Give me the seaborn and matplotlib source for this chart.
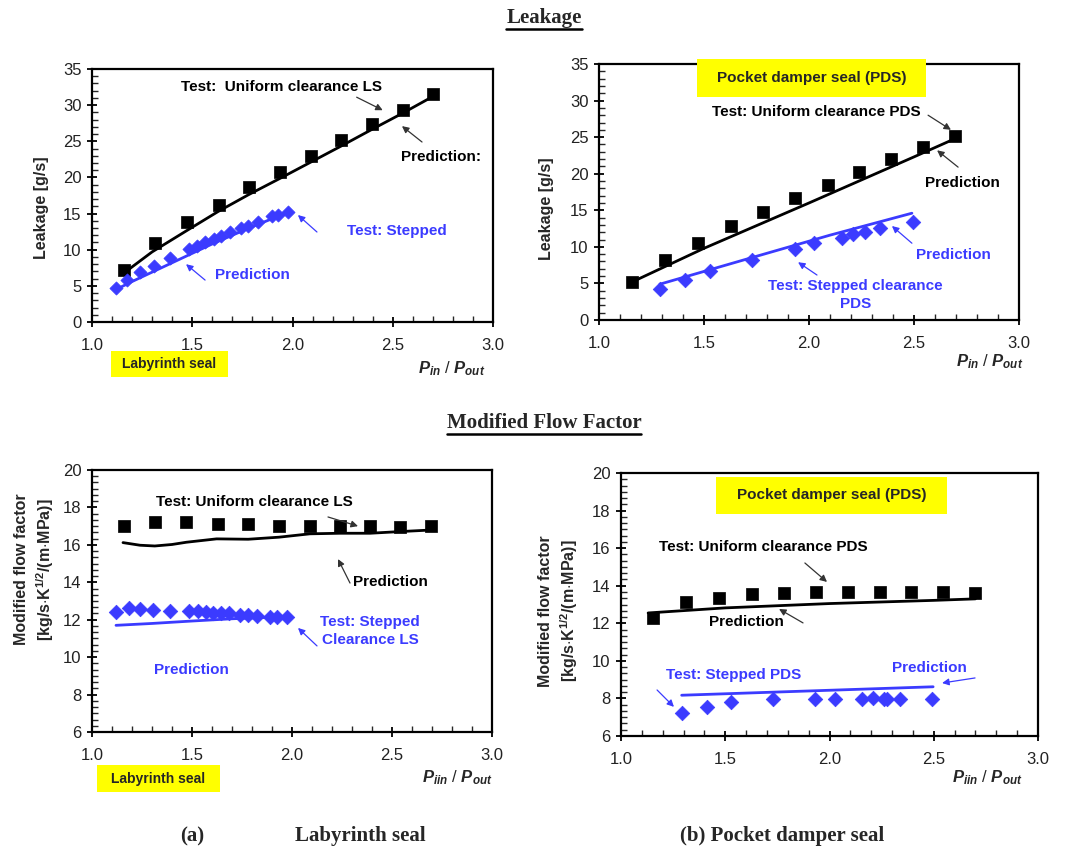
import numpy as np
import pandas as pd
import seaborn as sns
import matplotlib.pyplot as plt
from matplotlib.patches import Rectangle
from matplotlib.ticker import MultipleLocator, AutoMinorLocator

# ---- data ----
# (a) labyrinth seal, leakage [g/s]
ls_leak_test_x = [1.158, 1.315, 1.473, 1.631, 1.785, 1.938, 2.092, 2.241, 2.397, 2.549, 2.701]
ls_leak_test_y = [7.2, 10.9, 13.8, 16.2, 18.7, 20.8, 23.0, 25.2, 27.4, 29.3, 31.5]
ls_leak_pred_x = [1.17, 1.30, 1.47, 1.63, 1.78, 1.94, 2.09, 2.24, 2.40, 2.55, 2.70]
ls_leak_pred_y = [7.0, 9.7, 12.6, 15.3, 17.6, 19.9, 22.1, 24.3, 26.7, 28.9, 31.2]
sls_leak_test_x = [1.121, 1.174, 1.241, 1.307, 1.39, 1.485, 1.523, 1.564, 1.606, 1.644,
                   1.689, 1.742, 1.78, 1.83, 1.896, 1.926, 1.979]
sls_leak_test_y = [4.7, 5.85, 6.86, 7.8, 8.85, 10.1, 10.55, 11.0, 11.5, 11.9,
                   12.4, 13.0, 13.3, 13.9, 14.6, 14.8, 15.25]
sls_leak_pred_x = [1.12, 1.20, 1.30, 1.40, 1.50, 1.60, 1.70, 1.80, 1.90, 1.98]
sls_leak_pred_y = [4.5, 5.6, 6.9, 8.2, 9.5, 10.8, 12.0, 13.2, 14.3, 15.2]

# (b) pocket damper seal, leakage [g/s]
pds_leak_test_x = [1.156, 1.314, 1.473, 1.629, 1.779, 1.933, 2.089, 2.24, 2.39, 2.544, 2.695]
pds_leak_test_y = [5.24, 8.2, 10.57, 12.85, 14.72, 16.73, 18.46, 20.19, 21.97, 23.6, 25.16]
pds_leak_pred_x = [1.18, 1.50, 2.00, 2.50, 2.68]
pds_leak_pred_y = [5.5, 9.8, 16.0, 22.3, 24.6]
spds_leak_test_x = [1.29, 1.41, 1.529, 1.727, 1.933, 2.025, 2.156, 2.211, 2.267, 2.338, 2.494]
spds_leak_test_y = [4.19, 5.47, 6.7, 8.2, 9.66, 10.48, 11.26, 11.71, 11.99, 12.53, 13.45]
spds_leak_pred_x = [1.29, 1.70, 2.10, 2.49]
spds_leak_pred_y = [4.9, 8.3, 11.6, 14.6]

# (a) labyrinth seal, modified flow factor
ls_mff_test_x = [1.159, 1.314, 1.472, 1.628, 1.781, 1.935, 2.09, 2.24, 2.39, 2.541, 2.695]
ls_mff_test_y = [17.03, 17.24, 17.2, 17.12, 17.12, 17.03, 17.01, 17.01, 17.01, 16.98, 17.01]
ls_mff_pred_x = [1.155, 1.24, 1.314, 1.40, 1.472, 1.623, 1.781, 1.935, 2.09, 2.24, 2.39, 2.541, 2.708]
ls_mff_pred_y = [16.12, 15.98, 15.94, 16.02, 16.14, 16.32, 16.3, 16.41, 16.59, 16.62, 16.62, 16.71, 16.8]
sls_mff_test_x = [1.122, 1.184, 1.239, 1.306, 1.389, 1.486, 1.531, 1.569, 1.606, 1.644,
                  1.686, 1.74, 1.778, 1.826, 1.89, 1.923, 1.973]
sls_mff_test_y = [12.40, 12.62, 12.58, 12.53, 12.44, 12.44, 12.44, 12.39, 12.35, 12.35,
                  12.35, 12.26, 12.26, 12.21, 12.17, 12.16, 12.14]
sls_mff_pred_x = [1.12, 1.30, 1.50, 1.70, 1.98]
sls_mff_pred_y = [11.7, 11.8, 11.93, 12.05, 12.17]

# (b) pocket damper seal, modified flow factor
pds_mff_test_x = [1.155, 1.312, 1.471, 1.626, 1.781, 1.935, 2.089, 2.241, 2.393, 2.545, 2.696]
pds_mff_test_y = [12.30, 13.15, 13.37, 13.54, 13.6, 13.65, 13.65, 13.65, 13.65, 13.65, 13.6]
pds_mff_pred_x = [1.13, 1.50, 2.00, 2.50, 2.70]
pds_mff_pred_y = [12.55, 12.82, 13.05, 13.22, 13.3]
spds_mff_test_x = [1.291, 1.411, 1.527, 1.727, 1.93, 2.026, 2.158, 2.209, 2.262, 2.278, 2.337, 2.494]
spds_mff_test_y = [7.23, 7.55, 7.81, 7.99, 7.99, 7.99, 7.99, 8.03, 7.99, 7.99, 7.99, 7.99]
spds_mff_pred_x = [1.291, 2.497]
spds_mff_pred_y = [8.17, 8.62]

BLUE = "#3b3bff"
YELLOW = "#ffff00"

sns.set_style("ticks")
plt.rcParams["font.family"] = ["Liberation Sans", "DejaVu Sans"]
plt.rcParams["mathtext.fontset"] = "custom"
plt.rcParams["mathtext.rm"] = "Liberation Sans:bold"
plt.rcParams["mathtext.it"] = "Liberation Sans:bold:italic"
plt.rcParams["mathtext.bf"] = "Liberation Sans:bold"

fig = plt.figure(figsize=(10.73, 8.5), dpi=100)
W, H = 1073, 850


def add_axes(left, top, right, bottom):
    return fig.add_axes([left / W, 1 - bottom / H, (right - left) / W, (bottom - top) / H])


ax_tl = add_axes(92, 69, 493, 322)
ax_tr = add_axes(599, 64, 1019, 320)
ax_bl = add_axes(92, 470, 492, 732)
ax_br = add_axes(621, 473, 1038, 736)


def draw(ax, tx, ty, px, py, color, marker, size):
    sns.lineplot(x=px, y=py, ax=ax, color=color, lw=2.0, sort=False, estimator=None, zorder=2)
    sns.scatterplot(x=tx, y=ty, ax=ax, color=color, marker=marker, s=size,
                    edgecolor=color, linewidth=0.5, zorder=3)


def style(ax, ymax, ymajor, yminor_div, ymin=0):
    ax.set_xlim(1.0, 3.0)
    ax.set_ylim(ymin, ymax)
    ax.xaxis.set_major_locator(MultipleLocator(0.5))
    ax.xaxis.set_minor_locator(MultipleLocator(0.1))
    ax.yaxis.set_major_locator(MultipleLocator(ymajor))
    ax.yaxis.set_minor_locator(AutoMinorLocator(yminor_div))
    ax.xaxis.set_major_formatter(plt.FormatStrFormatter("%.1f"))
    for s in ax.spines.values():
        s.set_visible(True)
        s.set_linewidth(1.6)
        s.set_color("black")
    ax.tick_params(which="major", direction="inout", length=7, width=1.3,
                   labelsize=12, colors="black", labelcolor="#222222", pad=4)
    ax.tick_params(which="minor", direction="in", length=4, width=1.0)
    ax.tick_params(axis="x", which="major", pad=8)
    ax.set_xlabel("")


def note(ax, text, xy, color="black", size=11, ha="center", arrow=None):
    ax.text(xy[0], xy[1], text, color=color, fontsize=size, fontweight="bold",
            ha=ha, va="center", clip_on=False, zorder=5, linespacing=1.4)
    if arrow is not None:
        ax.annotate("", xy=arrow[1], xytext=arrow[0],
                    arrowprops=dict(arrowstyle="-|>", color=color if color != "black" else "#333333",
                                    lw=0.9, mutation_scale=10, shrinkA=0, shrinkB=0),
                    annotation_clip=False, zorder=5)


def ybox(ax, x0, x1, y0, y1, text, size=11):
    ax.add_patch(Rectangle((x0, y0), x1 - x0, y1 - y0, transform=ax.transData,
                           facecolor=YELLOW, edgecolor="none", clip_on=False, zorder=4))
    ax.text((x0 + x1) / 2, (y0 + y1) / 2, text, fontsize=size, fontweight="bold",
            ha="center", va="center", clip_on=False, zorder=5)


XLAB = r"$P_{in}$ / $P_{out}$"
XLAB2 = r"$P_{iin}$ / $P_{out}$"
MFF_LABEL = "Modified flow factor\n[kg/s$\\cdot$K$^{1/2}$/(m$\\cdot$MPa)]"

# ---- (a) leakage, labyrinth seal ----
draw(ax_tl, ls_leak_test_x, ls_leak_test_y, ls_leak_pred_x, ls_leak_pred_y, "black", "s", 80)
draw(ax_tl, sls_leak_test_x, sls_leak_test_y, sls_leak_pred_x, sls_leak_pred_y, BLUE, "D", 45)
style(ax_tl, 35, 5, 5)
ax_tl.set_ylabel("Leakage [g/s]", fontsize=11.5, fontweight="bold")
ax_tl.yaxis.set_label_coords(-0.108, 0.45)
note(ax_tl, "Test:  Uniform clearance LS", (1.945, 32.5), arrow=((2.32, 31.1), (2.45, 29.3)))
note(ax_tl, "Prediction:", (2.74, 22.8), arrow=((2.646, 24.9), (2.546, 27.1)))
note(ax_tl, "Test: Stepped", (2.52, 12.6), color=BLUE, arrow=((2.122, 12.45), (2.027, 14.8)))
note(ax_tl, "Prediction", (1.798, 6.5), color=BLUE, arrow=((1.564, 5.8), (1.469, 8.0)))
ybox(ax_tl, 1.095, 1.678, -7.61, -4.01, "Labyrinth seal", size=10)
ax_tl.text(2.795, -6.4, XLAB, fontsize=12, ha="center", va="center", clip_on=False)

# ---- (b) leakage, pocket damper seal ----
draw(ax_tr, pds_leak_test_x, pds_leak_test_y, pds_leak_pred_x, pds_leak_pred_y, "black", "s", 85)
draw(ax_tr, spds_leak_test_x, spds_leak_test_y, spds_leak_pred_x, spds_leak_pred_y, BLUE, "D", 55)
style(ax_tr, 35, 5, 5)
ax_tr.set_ylabel("Leakage [g/s]", fontsize=11.5, fontweight="bold")
ax_tr.yaxis.set_label_coords(-0.106, 0.434)
ybox(ax_tr, 1.467, 2.557, 30.49, 35.69, "Pocket damper seal (PDS)")
note(ax_tr, "Test: Uniform clearance PDS", (2.033, 28.4), arrow=((2.567, 28.0), (2.676, 26.0)))
note(ax_tr, "Prediction", (2.733, 18.7), arrow=((2.71, 20.9), (2.61, 23.2)))
note(ax_tr, "Prediction", (2.69, 8.9), color=BLUE, arrow=((2.49, 10.5), (2.395, 12.85)))
note(ax_tr, "Test: Stepped clearance\nPDS", (2.22, 3.4), color=BLUE,
     arrow=((2.038, 6.15), (1.948, 7.9)))
ax_tr.text(2.862, -5.7, XLAB, fontsize=12, ha="center", va="center", clip_on=False)

# ---- (a) modified flow factor, labyrinth seal ----
draw(ax_bl, ls_mff_test_x, ls_mff_test_y, ls_mff_pred_x, ls_mff_pred_y, "black", "s", 80)
draw(ax_bl, sls_mff_test_x, sls_mff_test_y, sls_mff_pred_x, sls_mff_pred_y, BLUE, "D", 55)
style(ax_bl, 20, 2, 6, ymin=6)
ax_bl.set_ylabel(MFF_LABEL, fontsize=11.5, fontweight="bold", linespacing=1.3)
ax_bl.yaxis.set_label_coords(-0.09, 0.62)
note(ax_bl, "Test: Uniform clearance LS", (1.81, 18.29), arrow=((2.18, 17.49), (2.33, 17.0)))
note(ax_bl, "Prediction", (2.49, 14.01), arrow=((2.29, 13.96), (2.23, 15.24)))
note(ax_bl, "Test: Stepped\nClearance LS", (2.39, 11.4), color=BLUE,
     arrow=((2.125, 10.6), (2.03, 11.56)))
note(ax_bl, "Prediction", (1.495, 9.31), color=BLUE)
ybox(ax_bl, 1.025, 1.64, 2.79, 4.23, "Labyrinth seal", size=10)
ax_bl.text(2.825, 3.54, XLAB2, fontsize=12, ha="center", va="center", clip_on=False)

# ---- (b) modified flow factor, pocket damper seal ----
draw(ax_br, pds_mff_test_x, pds_mff_test_y, pds_mff_pred_x, pds_mff_pred_y, "black", "s", 80)
draw(ax_br, spds_mff_test_x, spds_mff_test_y, spds_mff_pred_x, spds_mff_pred_y, BLUE, "D", 55)
style(ax_br, 20, 2, 6, ymin=6)
ax_br.set_ylabel(MFF_LABEL, fontsize=11.5, fontweight="bold", linespacing=1.3)
ax_br.yaxis.set_label_coords(-0.098, 0.475)
ybox(ax_br, 1.456, 2.564, 17.82, 19.79, "Pocket damper seal (PDS)")
note(ax_br, "Test: Uniform clearance PDS", (1.681, 16.06), arrow=((1.882, 15.21), (1.988, 14.2)))
note(ax_br, "Prediction", (1.6, 12.07), arrow=((1.873, 12.02), (1.758, 12.76)))
note(ax_br, "Prediction", (2.477, 9.62), color=BLUE, arrow=((2.698, 9.09), (2.54, 8.82)))
note(ax_br, "Test: Stepped PDS", (1.542, 9.25), color=BLUE, arrow=((1.173, 8.45), (1.254, 7.55)))
ax_br.text(2.755, 3.77, XLAB2, fontsize=12, ha="center", va="center", clip_on=False)

# ---- section titles and captions ----
serif = ["Liberation Serif", "DejaVu Serif"]
for label, yy in [("Leakage", 18), ("Modified Flow Factor", 423)]:
    t = fig.text(544 / W, 1 - yy / H, label, family=serif, fontsize=15, fontweight="bold",
                 ha="center", va="center")
    fig.canvas.draw()
    bb = t.get_window_extent()
    fig.add_artist(plt.Line2D([bb.x0 / W, bb.x1 / W], [(bb.y0 - 1) / H, (bb.y0 - 1) / H],
                              color="black", lw=1.8, transform=fig.transFigure))
fig.text(192 / W, 1 - 836 / H, "(a)", family=serif, fontsize=15, fontweight="bold",
         ha="center", va="center")
fig.text(360 / W, 1 - 836 / H, "Labyrinth seal", family=serif, fontsize=15, fontweight="bold",
         ha="center", va="center")
fig.text(782 / W, 1 - 836 / H, "(b) Pocket damper seal", family=serif, fontsize=15,
         fontweight="bold", ha="center", va="center")

fig.savefig("out.png", dpi=100)
